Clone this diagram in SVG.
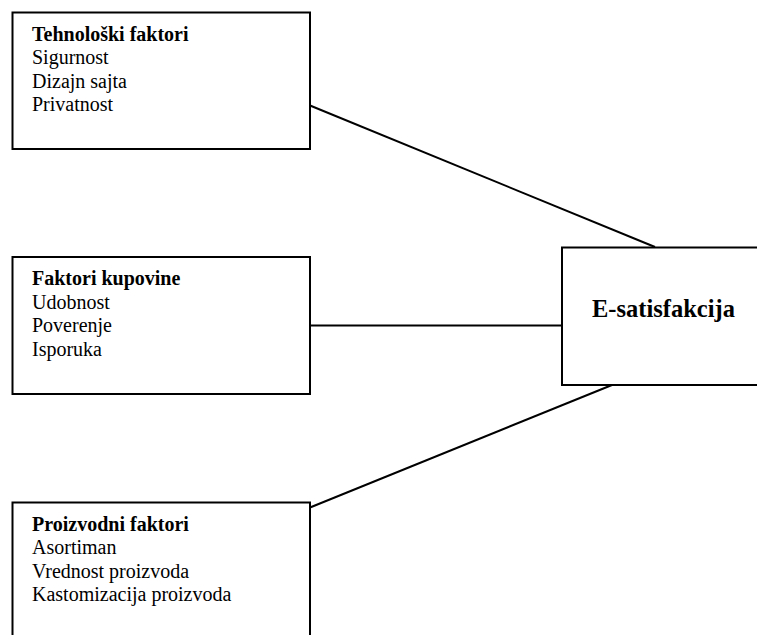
<svg xmlns="http://www.w3.org/2000/svg" width="757" height="635" viewBox="0 0 757 635">
<style>
.box{fill:#fff;stroke:#000;stroke-width:2}
.t{font-family:"Liberation Serif","Times New Roman",serif;font-size:20px;fill:#000}
.b{font-weight:bold}
.big{font-family:"Liberation Serif","Times New Roman",serif;font-size:24.5px;font-weight:bold;fill:#000}
.c{stroke:#000;stroke-width:2;fill:none}
</style>
<rect width="757" height="635" fill="#fff"/>
<g id="connectors">
<line class="c" x1="310" y1="105.5" x2="655" y2="247"/>
<line class="c" x1="310" y1="325.5" x2="562" y2="325.5"/>
<line class="c" x1="310" y1="507.5" x2="612" y2="385"/>
</g>
<g id="tehnoloski">
<rect class="box" x="12.5" y="12.5" width="297.5" height="136.5"/>
<text class="t b" x="32" y="40.5">Tehnološki faktori</text>
<text class="t" x="32" y="64">Sigurnost</text>
<text class="t" x="32" y="87.5">Dizajn sajta</text>
<text class="t" x="32" y="111">Privatnost</text>
</g>
<g id="kupovina">
<rect class="box" x="12.5" y="257" width="297.5" height="137"/>
<text class="t b" x="32" y="285">Faktori kupovine</text>
<text class="t" x="32" y="308.5">Udobnost</text>
<text class="t" x="32" y="332">Poverenje</text>
<text class="t" x="32" y="355.5">Isporuka</text>
</g>
<g id="proizvodni">
<rect class="box" x="12.5" y="502.5" width="297.5" height="150"/>
<text class="t b" x="32" y="530.5">Proizvodni faktori</text>
<text class="t" x="32" y="554">Asortiman</text>
<text class="t" x="32" y="577.5">Vrednost proizvoda</text>
<text class="t" x="32" y="601">Kastomizacija proizvoda</text>
</g>
<g id="esatisfakcija">
<rect class="box" x="562" y="247.5" width="210" height="137.5"/>
<text class="big" x="592" y="317">E-satisfakcija</text>
</g>
</svg>
